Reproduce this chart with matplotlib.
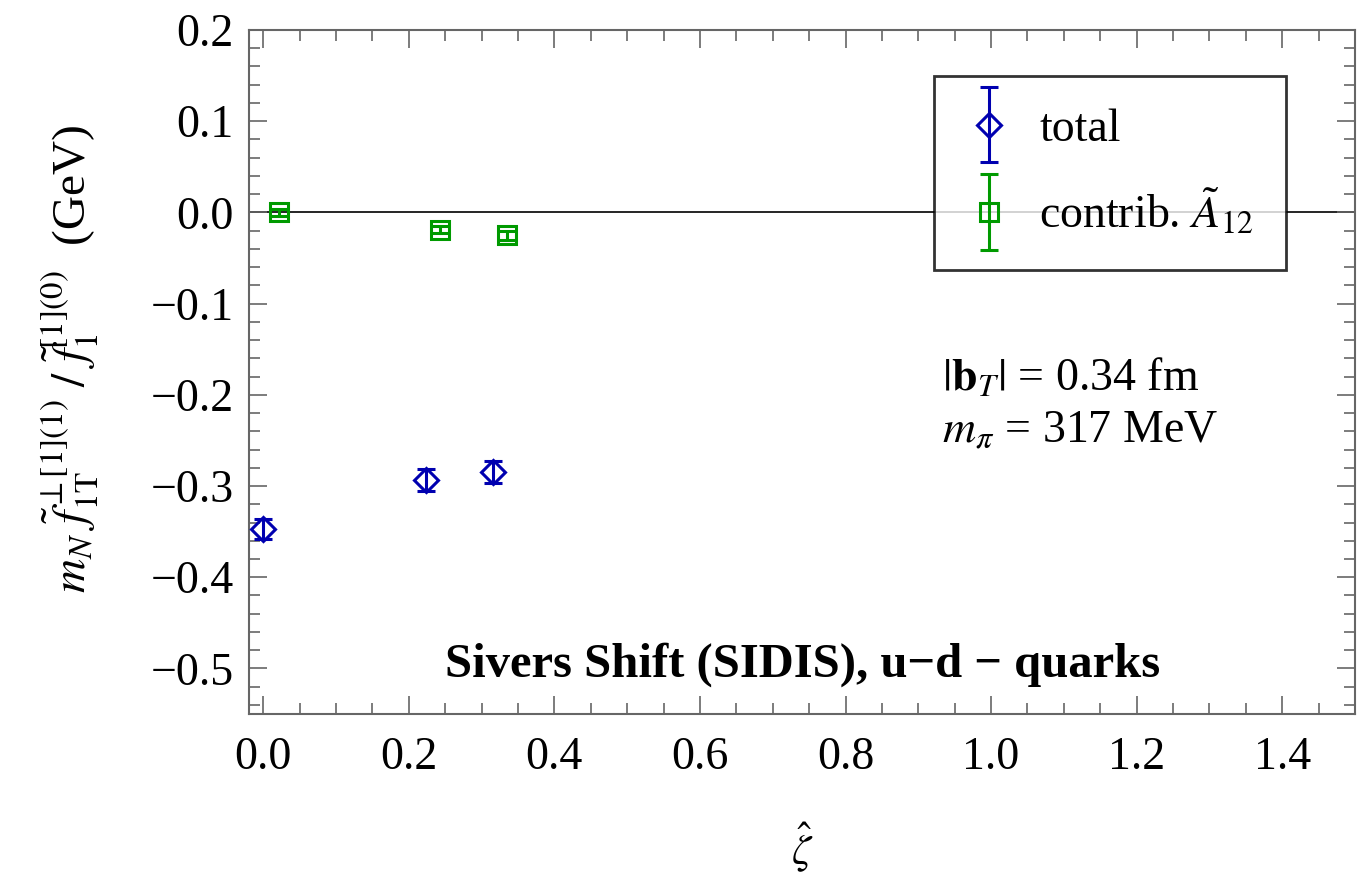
import matplotlib
matplotlib.use("Agg")
import matplotlib.pyplot as plt
from matplotlib.container import ErrorbarContainer
from matplotlib.legend_handler import HandlerErrorbar
from matplotlib.ticker import MultipleLocator

# ---------------------------------------------------------------------------
# Data
# ---------------------------------------------------------------------------
zeta_total = [0.0, 0.223, 0.316]
val_total = [-0.347, -0.293, -0.285]
err_total = [0.011, 0.012, 0.012]

zeta_a12 = [0.021, 0.243, 0.335]
val_a12 = [0.0, -0.019, -0.025]
err_a12 = [0.004, 0.004, 0.005]

BLUE = "#0000b0"
GREEN = "#009a00"
FRAME = "#666666"

plt.rcParams['font.family'] = ['Liberation Serif', 'DejaVu Serif']
plt.rcParams['mathtext.fontset'] = 'stix'

fig = plt.figure(figsize=(13.63, 8.88), dpi=100)
ax = fig.add_axes([0.1825, 0.1959, 0.8116, 0.7703])

# zero line
ax.axhline(0.0, color='black', lw=1.2, zorder=1)

eb1 = ax.errorbar(zeta_total, val_total, yerr=err_total, fmt='D', ms=12.5,
                  mfc='none', mec=BLUE, mew=2.2, color=BLUE, elinewidth=2.2,
                  capsize=6.8, capthick=2.2, label='total', zorder=3)
eb2 = ax.errorbar(zeta_a12, val_a12, yerr=err_a12, fmt='s', ms=13,
                  mfc='none', mec=GREEN, mew=2.2, color=GREEN, elinewidth=2.2,
                  capsize=6.5, capthick=2.2, label=r'contrib. $\tilde{A}_{12}$',
                  zorder=3)

ax.set_xlim(-0.02, 1.5)
ax.set_ylim(-0.55, 0.2)

ax.xaxis.set_major_locator(MultipleLocator(0.2))
ax.xaxis.set_minor_locator(MultipleLocator(0.05))
ax.yaxis.set_major_locator(MultipleLocator(0.1))
ax.yaxis.set_minor_locator(MultipleLocator(0.02))
ax.xaxis.set_major_formatter(plt.FuncFormatter(lambda v, p: f"{v:.1f}".replace('-', '\u2212')))
ax.yaxis.set_major_formatter(plt.FuncFormatter(lambda v, p: f"{v:.1f}".replace('-', '\u2212')))

ax.tick_params(which='both', direction='in', top=True, right=True,
               color=FRAME, width=1.2, labelsize=33)
ax.tick_params(which='major', length=13)
ax.tick_params(which='minor', length=8)
ax.tick_params(axis='y', pad=11)
ax.tick_params(axis='x', pad=16)
for s in ax.spines.values():
    s.set_color(FRAME)
    s.set_linewidth(1.5)

ax.set_ylabel(r'$m_N\ \tilde{f}_{1\mathrm{T}}^{\perp[1](1)}\ /\ \tilde{f}_1^{[1](0)}$  (GeV)',
              fontsize=34)
ax.yaxis.set_label_coords(-0.134, 0.52)
ax.set_xlabel(r'$\hat{\zeta}$', fontsize=31)
ax.xaxis.set_label_coords(0.5, -0.155)

ax.text(0.932, -0.182, r'$|\mathbf{b}_T|$ = 0.34 fm', fontsize=33,
        ha='left', va='center')
ax.text(0.932, -0.240, r'$m_\pi$ = 317 MeV', fontsize=33,
        ha='left', va='center')
ax.text(0.249, -0.496, 'Sivers Shift (SIDIS), u\u2212d \u2212 quarks',
        fontsize=35, fontweight='bold', ha='left', va='center')

leg = ax.legend(loc='upper left', bbox_to_anchor=(0.6195, 0.9327),
                fontsize=33, frameon=True, fancybox=False,
                handlelength=1.0, handletextpad=0.6, labelspacing=0.8,
                borderpad=0.7, borderaxespad=0.0,
                handler_map={ErrorbarContainer: HandlerErrorbar(yerr_size=0.82)})
leg.get_frame().set_edgecolor('black')
leg.get_frame().set_linewidth(2.0)

fig.savefig("out.png", dpi=100)
